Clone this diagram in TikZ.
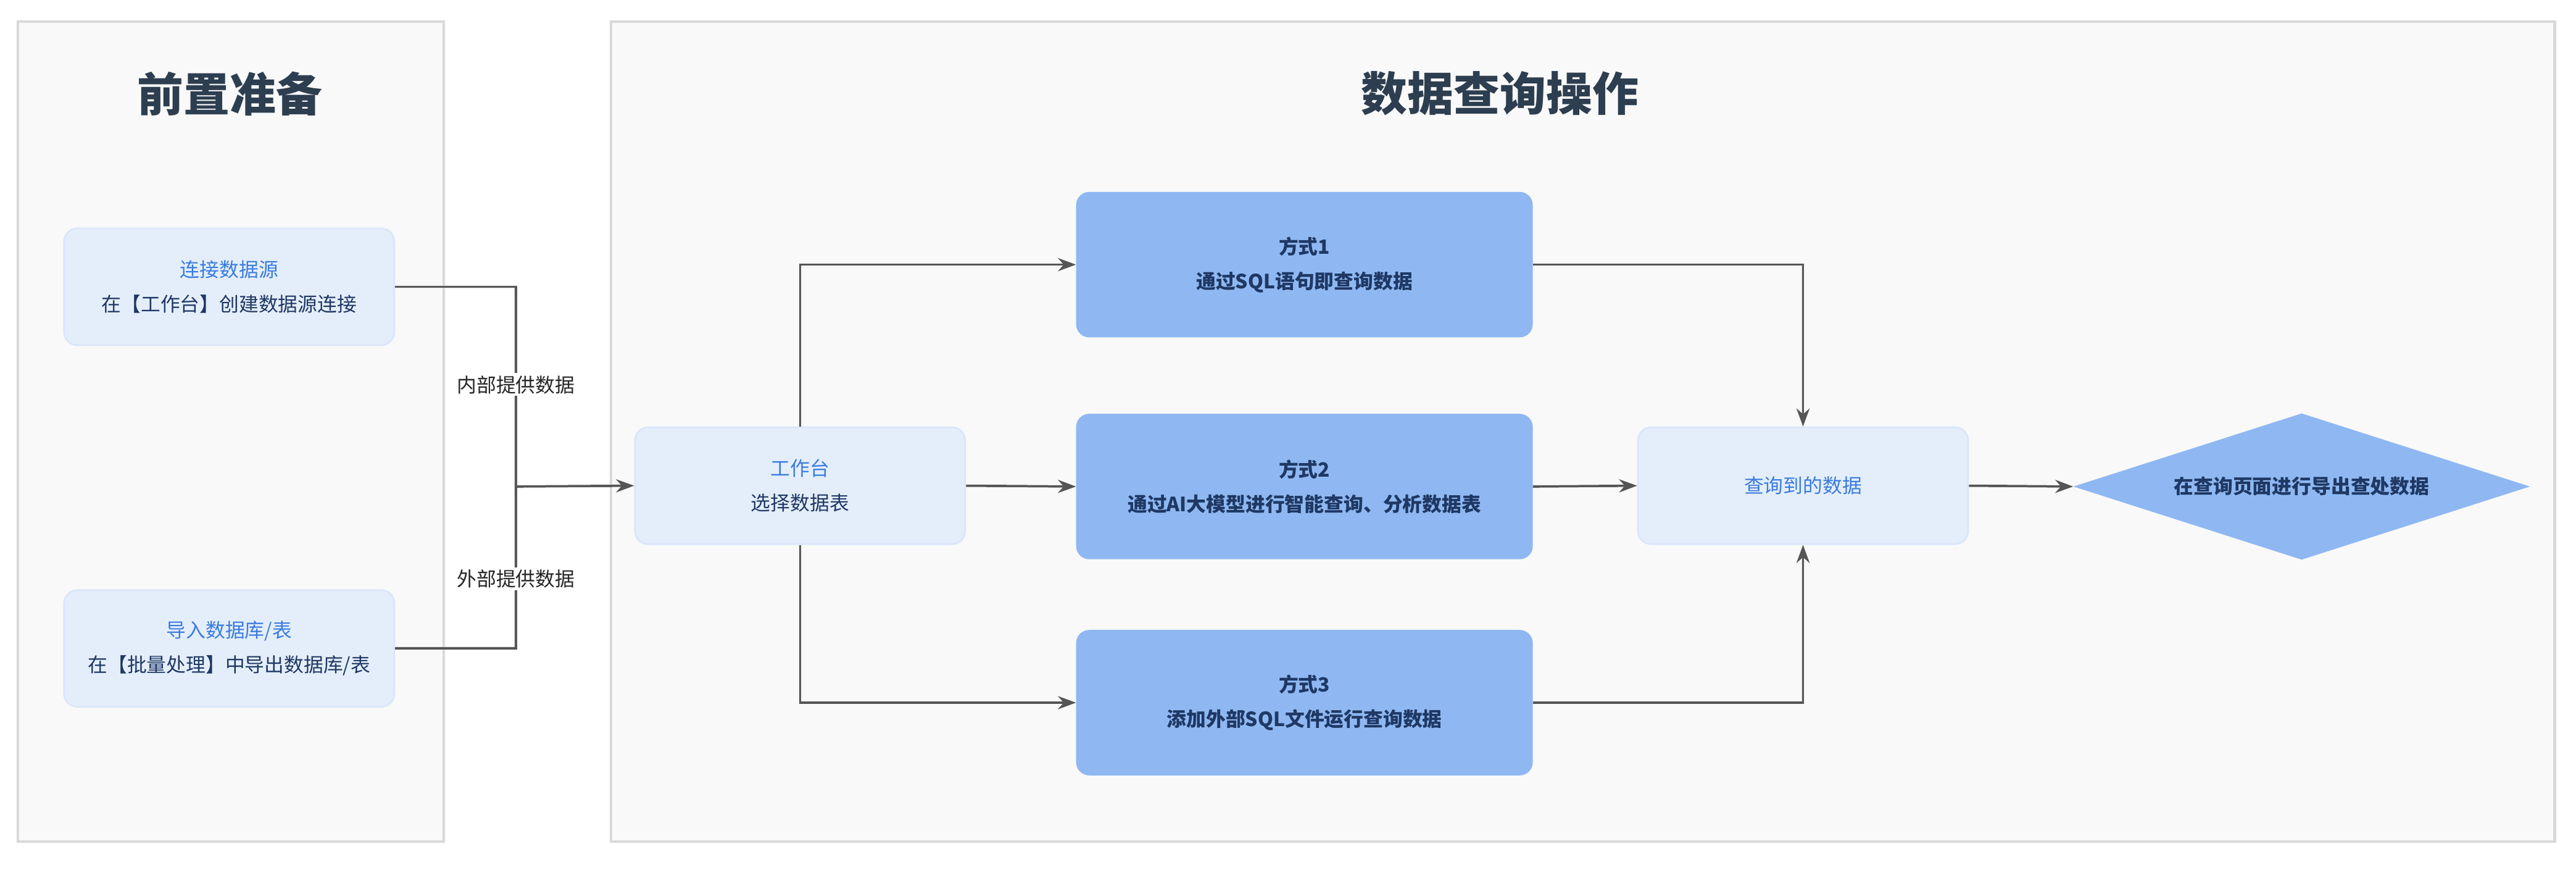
\documentclass[tikz,border=0pt]{standalone}
\usepackage{fontspec}
\setmainfont{Noto Sans CJK SC}
\usetikzlibrary{shapes.geometric,arrows.meta}
\definecolor{panelbg}{HTML}{F9F9F9}
\definecolor{panelbd}{HTML}{D9D9D9}
\definecolor{lightbox}{HTML}{E4EEFA}
\definecolor{lightbd}{HTML}{DAE6FA}
\definecolor{darkbox}{HTML}{8FB8F2}
\definecolor{bluetxt}{HTML}{3A7BE0}
\definecolor{navytxt}{HTML}{1F3864}
\definecolor{titletxt}{HTML}{2D3E50}
\definecolor{linec}{HTML}{555555}
\begin{document}
\begin{tikzpicture}[x=0.1cm,y=-0.1cm,
  panel/.style={draw=panelbd,fill=panelbg,line width=4.5pt},
  ptitle/.style={font=\fontsize{80}{90}\selectfont\bfseries,text=titletxt},
  light/.style={draw=lightbd,fill=lightbox,line width=3pt,rounded corners=0.8cm,minimum width=20.1cm,minimum height=7.1cm,align=center,font=\fontsize{34}{60}\selectfont,text=navytxt},
  dark/.style={fill=darkbox,rounded corners=0.8cm,minimum width=27.8cm,minimum height=8.85cm,align=center,font=\fontsize{34}{60}\selectfont\bfseries,text=navytxt},
  conn/.style={draw=linec,line width=4pt},
  arr/.style={conn,-{Stealth[length=1.1cm,width=0.8cm]}},
  lbl/.style={fill=white,font=\fontsize{34}{40}\selectfont,text=black!85,inner sep=4pt}
]
\useasboundingbox (0,0) rectangle (1568,529);
\fill[white] (0,0) rectangle (1568,529);
\draw[panel] (11,13) rectangle (270,512);
\draw[panel] (372,13) rectangle (1555,512);
\node[ptitle] (t1) at (140,57) {前置准备};
\node[ptitle] (t2) at (913,57) {数据查询操作};

\node[light] (src) at (139.5,174.5) {{\color{bluetxt}连接数据源}\\在【工作台】创建数据源连接};
\node[light] (imp) at (139.5,394.5) {{\color{bluetxt}导入数据库/表}\\在【批量处理】中导出数据库/表};
\node[light] (wb) at (487,295.5) {{\color{bluetxt}工作台}\\选择数据表};
\node[dark] (m1) at (794,161) {方式1\\通过SQL语句即查询数据};
\node[dark] (m2) at (794,296) {方式2\\通过AI大模型进行智能查询、分析数据表};
\node[dark] (m3) at (794,427.5) {方式3\\添加外部SQL文件运行查询数据};
\node[light,text=bluetxt] (res) at (1097.5,295.5) {查询到的数据};
\node[diamond,fill=darkbox,minimum width=27.8cm,minimum height=8.9cm,inner sep=0pt,aspect=3.1,font=\fontsize{34}{40}\selectfont\bfseries,text=navytxt] (exp) at (1401,296) {在查询页面进行导出查处数据};

\coordinate (j) at (314,296);
\draw[conn] (src.east) -| (j);
\draw[conn] (imp.east) -| (j);
\node[lbl] (l1) at (314,234) {内部提供数据};
\node[lbl] (l2) at (314,352) {外部提供数据};
\draw[arr] (j) -- (wb.west);

\draw[arr] (wb.north) |- (m1.west);
\draw[arr] (wb.east) -- (m2.west);
\draw[arr] (wb.south) |- (m3.west);
\draw[arr] (m1.east) -| (res.north);
\draw[arr] (m3.east) -| (res.south);
\draw[arr] (m2.east) -- (res.west);
\draw[arr] (res.east) -- (exp.west);
\end{tikzpicture}
\end{document}
